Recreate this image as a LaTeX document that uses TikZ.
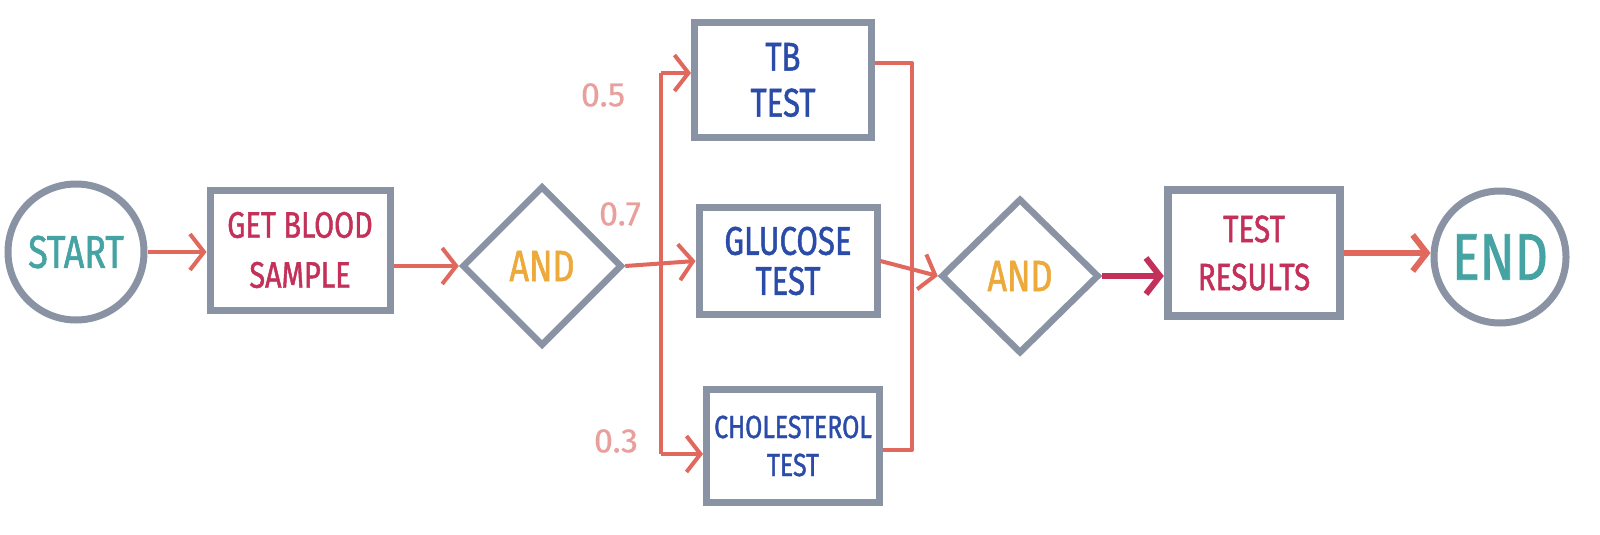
\documentclass[tikz,border=0pt]{standalone}
\usepackage{fontspec}
\usetikzlibrary{arrows.meta,shapes.geometric}
\newfontfamily\hand[FakeStretch=0.78,FakeBold=1.2]{Fira Sans}
\newfontfamily\numfont[FakeBold=0.6]{Fira Sans}
\newcommand{\fszz}[2]{\fontsize{#1}{#2}\selectfont}
\definecolor{boxgray}{HTML}{8A93A3}
\definecolor{arrred}{HTML}{E0685C}
\definecolor{labpink}{HTML}{E9A09C}
\definecolor{tealc}{HTML}{45A3A3}
\definecolor{crim}{HTML}{C3305A}
\definecolor{orng}{HTML}{EDA93A}
\definecolor{bluec}{HTML}{2A4BA8}
\begin{document}
\begin{tikzpicture}[x=1pt,y=-1pt,
  box/.style={draw=boxgray,line width=7pt,rectangle,inner sep=0pt,align=center,fill=white},
  circ/.style={draw=boxgray,line width=7pt,circle,inner sep=0pt,fill=white},
  gate/.style={draw=boxgray,line width=6.5pt,diamond,inner sep=0pt,minimum width=160pt,minimum height=160pt,fill=white,font=\hand\fszz{44}{44},text=orng},
  conn/.style={draw=arrred,line width=4pt},
  arr/.style={conn,-{Straight Barb[length=14pt,width=36pt]}},
  lab/.style={font=\numfont\fszz{34}{34},text=labpink,inner sep=0pt}
]
\useasboundingbox[fill=white] (0,0) rectangle (1600,535);

\node[circ,minimum size=136pt,text=tealc,font=\hand\fszz{46}{46}] (start) at (76,252) {START};
\node[box,minimum width=180pt,minimum height=120pt,text=crim,font=\hand\fszz{37}{50}] (get) at (300,250) {GET BLOOD\\SAMPLE};
\node[gate] (and1) at (542,266) {AND};
\node[box,minimum width=177pt,minimum height=114pt,text=bluec,font=\hand\fszz{40}{46}] (tb) at (783,80) {TB\\TEST};
\node[box,minimum width=178pt,minimum height=107pt,text=bluec,font=\hand\fszz{40}{40}] (glu) at (788,261) {GLUCOSE\\TEST};
\node[box,minimum width=173pt,minimum height=113pt,text=bluec,font=\hand\fszz{32}{38}] (chol) at (793,446) {CHOLESTEROL\\TEST};
\node[gate,minimum width=158pt,minimum height=155pt] (and2) at (1020,276) {AND};
\node[box,line width=8.5pt,minimum width=172pt,minimum height=126pt,text=crim,font=\hand\fszz{38}{48}] (res) at (1254,253) {TEST\\RESULTS};
\node[circ,minimum size=132pt,text=tealc,font=\hand\fszz{66}{66}] (end) at (1500,257) {END};

\node[lab] (l5) at (603,95) {0.5};
\node[lab] (l7) at (620,214) {0.7};
\node[lab] (l3) at (616,441) {0.3};

\coordinate (b1) at (661,73);
\coordinate (b3) at (661,454);
\coordinate (m1) at (912,63);
\coordinate (m3) at (912,450);

\draw[arr] (start.east) -- (start.east -| get.west);
\draw[arr] (get.east |- and1.west) -- (and1.west);
\draw[arr] (and1.east) -- (glu.west);
\draw[conn] (b1) -- (b3);
\draw[arr] (b1) -- (b1 -| tb.west);
\draw[arr] (b3) -- (b3 -| chol.west);
\draw[conn,line join=round] (m1 -| tb.east) -- (m1) -- (m3) -- (m3 -| chol.east);
\draw[arr] (glu.east) -- (and2.west);
\draw[arr,draw=crim,line width=6pt] (and2.east) -- (and2.east -| res.west);
\draw[arr,line width=6pt] (res.east) -- (res.east -| end.west);
\end{tikzpicture}
\end{document}
